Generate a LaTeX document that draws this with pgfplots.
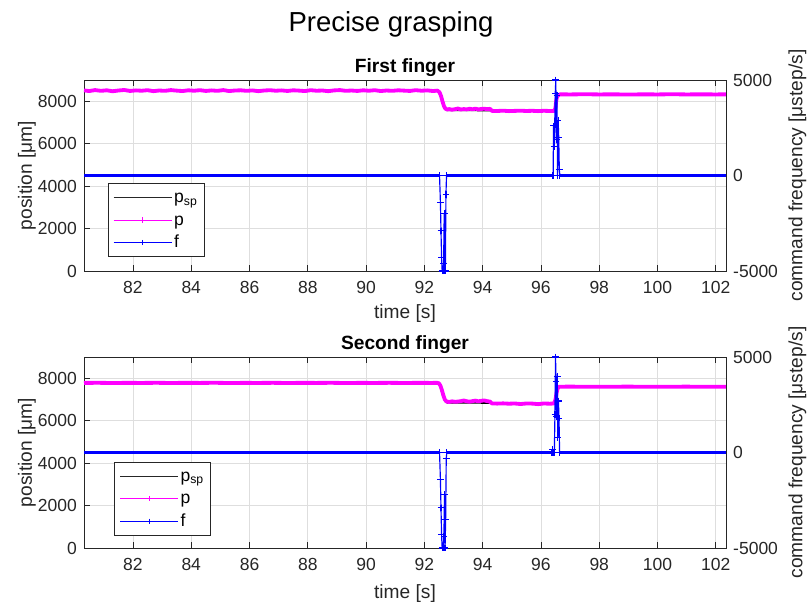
\documentclass[border=0pt]{standalone}
\usepackage{fontspec}
\setmainfont{Liberation Sans}
\usepackage{pgfplots}
\pgfplotsset{compat=1.18}

\definecolor{axgray}{rgb}{0.15,0.15,0.15}
\definecolor{pmag}{rgb}{1,0,1}
\definecolor{fblue}{rgb}{0,0,1}

\pgfplotsset{
  panel/.style={
    scale only axis, width=385.2pt, height=114.6pt,
    xmin=80.32, xmax=102.35, clip=false,
    tick align=inside, major tick length=3.6pt,
    axis line style={axgray, line width=0.5pt},
    every tick/.style={axgray, line width=0.5pt},
    tick label style={font=\fontsize{10.5}{12}\selectfont, text=axgray},
    /pgf/number format/assume math mode=true,
    /pgf/number format/1000 sep={},
    scaled ticks=false,
    xtick={82,84,...,102},
    unbounded coords=jump,
  },
  leftside/.style={
    panel, ymin=0, ymax=9000, ytick={0,2000,...,8000},
    ytick pos=left, xtick pos=both,
    grid=major, grid style={black!13, line width=0.5pt},
    xticklabel style={yshift=-2.5pt},
    yticklabel style={xshift=-0.8pt},
    xlabel={time [s]}, ylabel={position [μm]},
    label style={font=\fontsize{11.5}{13}\selectfont, text=axgray},
    ylabel style={at={(axis description cs:-0.089,0.5)}, anchor=center},
    title style={font=\bfseries\fontsize{11.5}{13}\selectfont, text=black,
      at={(axis description cs:0.5,1)}, anchor=base, yshift=-1.6pt},
  },
  rightside/.style={
    panel, ymin=-5000, ymax=5000, ytick={-5000,0,5000},
    axis x line=none, axis y line*=right,
    y axis line style={-},
    yticklabel style={xshift=0.8pt},
    ylabel={command frequency [μstep/s]},
    ylabel style={font=\fontsize{11.5}{13}\selectfont, text=axgray,
      at={(axis description cs:1.1114,0.5)}, anchor=center},
    legend image code/.code={%
      \draw[mark repeat=2,mark phase=2,##1] plot coordinates {(0pt,0pt) (17.5pt,0pt) (35pt,0pt)};},
    legend cell align=left,
    legend style={anchor=north west, draw=axgray, line width=0.5pt, fill=white,
      font=\fontsize{10.5}{12}\selectfont, inner xsep=3pt, inner ysep=2.5pt,
      row sep=1.5pt, nodes={inner sep=1pt, text height=8pt, text depth=2pt},
      /tikz/every even column/.append style={column sep=2pt}},
  },
  pline/.style={pmag, line width=2.3pt, line join=round},
  spline/.style={black, line width=1pt},
  fflat/.style={fblue, line width=2.2pt},
  fspike/.style={fblue, line width=0.7pt, mark=+, mark size=2pt, mark options={solid, fblue}},
  legp/.style={draw=pmag, line width=0.6pt, mark=+, mark size=1.6pt, mark options={solid, draw=pmag}},
  legf/.style={draw=fblue, line width=0.6pt, mark=+, mark size=1.6pt, mark options={solid, draw=fblue}},
}

\begin{document}
\begin{tikzpicture}
\path[use as bounding box] (0pt,0pt) rectangle (484.8pt,363.6pt);

\node[font=\fontsize{16.5}{19}\selectfont] at (234.6pt,349.2pt) {Precise grasping};

% ---------------- First finger ----------------
\begin{axis}[leftside, at={(50.4pt,201pt)}, anchor=south west,
  title={First finger},
  xlabel style={at={(axis description cs:0.5,-0.225)}, anchor=center}]
% set point
\addplot[spline] coordinates {
 (80.32,8500) (92.48,8500) (92.55,8300) (92.62,7950) (92.70,7660) (92.78,7570)
 (96.47,7560) (96.52,7900) (96.58,8300) (96.65,8320) (102.35,8320)};
% measured position
\addplot[pline] coordinates {
 (80.32,8510) (80.5,8480) (80.7,8525) (80.9,8490) (81.1,8515) (81.3,8470)
 (81.5,8505) (81.7,8530) (81.9,8485) (82.1,8510) (82.3,8495) (82.5,8520)
 (82.7,8475) (82.9,8505) (83.1,8490) (83.3,8525) (83.5,8500) (83.7,8480)
 (83.9,8515) (84.1,8495) (84.3,8520) (84.5,8485) (84.7,8510) (84.9,8490)
 (85.1,8525) (85.3,8480) (85.5,8505) (85.7,8515) (85.9,8490) (86.1,8510)
 (86.3,8475) (86.5,8505) (86.7,8520) (86.9,8495) (87.1,8510) (87.3,8485)
 (87.5,8515) (87.7,8500) (87.9,8480) (88.1,8520) (88.3,8495) (88.5,8505)
 (88.7,8475) (88.9,8510) (89.1,8525) (89.3,8490) (89.5,8505) (89.7,8485)
 (89.9,8515) (90.1,8495) (90.3,8520) (90.5,8480) (90.7,8505) (90.9,8490)
 (91.1,8515) (91.3,8500) (91.5,8485) (91.7,8520) (91.9,8495) (92.1,8510)
 (92.3,8480) (92.45,8500) (92.52,8420) (92.57,8250) (92.62,8000) (92.67,7780)
 (92.72,7650) (92.78,7610) (92.85,7630) (92.95,7600) (93.05,7625) (93.15,7655)
 (93.25,7610) (93.35,7630) (93.45,7615) (93.55,7645) (93.65,7620) (93.75,7650)
 (93.85,7615) (93.95,7635) (94.05,7650) (94.15,7625) (94.25,7640) (94.32,7545)
 (94.5,7540) (94.7,7555) (94.9,7535) (95.1,7545) (95.3,7555) (95.5,7540)
 (95.7,7550) (95.9,7535) (96.1,7550) (96.3,7540) (96.46,7545) (96.50,7700)
 (96.52,8000) (96.55,8200) (96.60,8290) (96.65,8325) (97.0,8320) (97.5,8330)
 (98.0,8320) (98.5,8325) (99.0,8315) (99.5,8325) (100.0,8320) (100.5,8330)
 (101.0,8320) (101.5,8325) (102.0,8320) (102.35,8325)};
\end{axis}
\begin{axis}[rightside, at={(50.4pt,201pt)}, anchor=south west,
  legend style={at={(0.037,0.461)}}]
\addlegendimage{draw=black!85, line width=0.6pt}
\addlegendentry{p\textsubscript{sp}}
\addlegendimage{legp}
\addlegendentry{p}
\addlegendimage{legf}
\addlegendentry{f}
% command frequency
\addplot[fflat, forget plot] coordinates {
 (80.32,0) (92.54,0) (92.6,nan) (92.76,0) (96.41,0) (96.5,nan) (96.64,0) (102.35,0)};
\addplot[fspike, forget plot] coordinates {
 (92.52,0) (92.55,-1400) (92.57,-2900) (92.59,-4300) (92.61,-5000) (92.64,-5000)
 (92.66,-4600) (92.68,-2000) (92.70,-5000) (92.72,-5000) (92.74,-1000) (92.76,0)};
\addplot[fspike, forget plot] coordinates {
 (96.39,0) (96.42,0) (96.43,2600) (96.46,1500) (96.49,4300) (96.51,5000)
 (96.53,1900) (96.55,4200) (96.57,0) (96.59,2900) (96.61,2000) (96.63,300) (96.65,0)};
\end{axis}

% ---------------- Second finger ----------------
\begin{axis}[leftside, at={(50.4pt,34.8pt)}, anchor=south west,
  title={Second finger},
  xlabel style={at={(axis description cs:0.5,-0.236)}, anchor=center}]
\addplot[spline] coordinates {
 (80.32,7780) (92.48,7780) (92.56,7550) (92.64,7150) (92.72,6900) (92.80,6840)
 (96.47,6830) (96.53,7250) (96.60,7580) (96.66,7600) (102.35,7600)};
\addplot[pline] coordinates {
 (80.32,7780) (80.8,7785) (81.3,7775) (81.8,7782) (82.3,7778) (82.8,7785)
 (83.3,7776) (83.8,7783) (84.3,7779) (84.8,7786) (85.3,7775) (85.8,7781)
 (86.3,7778) (86.8,7784) (87.3,7776) (87.8,7782) (88.3,7779) (88.8,7785)
 (89.3,7775) (89.8,7781) (90.3,7778) (90.8,7784) (91.3,7776) (91.8,7782)
 (92.2,7779) (92.45,7780) (92.50,7760) (92.55,7650) (92.60,7450) (92.65,7200)
 (92.70,7000) (92.76,6900) (92.85,6880) (92.95,6910) (93.05,6890) (93.15,6900)
 (93.25,6920) (93.35,6950) (93.45,6915) (93.55,6895) (93.65,6920) (93.75,6945)
 (93.85,6910) (93.95,6935) (94.05,6955) (94.15,6920) (94.25,6900) (94.32,6810)
 (94.5,6805) (94.7,6815) (94.9,6800) (95.1,6810) (95.3,6785) (95.5,6810)
 (95.7,6805) (95.9,6780) (96.1,6810) (96.3,6800) (96.45,6810) (96.50,7000)
 (96.54,7350) (96.58,7550) (96.63,7600) (97.0,7605) (97.5,7598) (98.0,7602)
 (98.5,7600) (99.0,7605) (99.5,7598) (100.0,7602) (100.5,7600) (101.0,7604)
 (101.5,7598) (102.0,7602) (102.35,7600)};
\end{axis}
\begin{axis}[rightside, at={(50.4pt,34.8pt)}, anchor=south west,
  legend style={at={(0.047,0.452)}}]
\addlegendimage{draw=black!85, line width=0.6pt}
\addlegendentry{p\textsubscript{sp}}
\addlegendimage{legp}
\addlegendentry{p}
\addlegendimage{legf}
\addlegendentry{f}
\addplot[fflat, forget plot] coordinates {
 (80.32,0) (92.54,0) (92.6,nan) (92.77,0) (96.46,0) (96.5,nan) (96.64,0) (102.35,0)};
\addplot[fspike, forget plot] coordinates {
 (92.52,0) (92.55,-1400) (92.57,-2900) (92.59,-4300) (92.61,-5000) (92.64,-5000)
 (92.67,-4400) (92.69,-2200) (92.71,-5000) (92.73,-3500) (92.75,-300) (92.77,0)};
\addplot[fspike, forget plot] coordinates {
 (96.38,0) (96.40,150) (96.43,0) (96.46,0) (96.48,2000) (96.50,5000)
 (96.52,3700) (96.54,1900) (96.56,4000) (96.58,800) (96.60,2700) (96.62,1800) (96.64,0)};
\end{axis}
\end{tikzpicture}
\end{document}
